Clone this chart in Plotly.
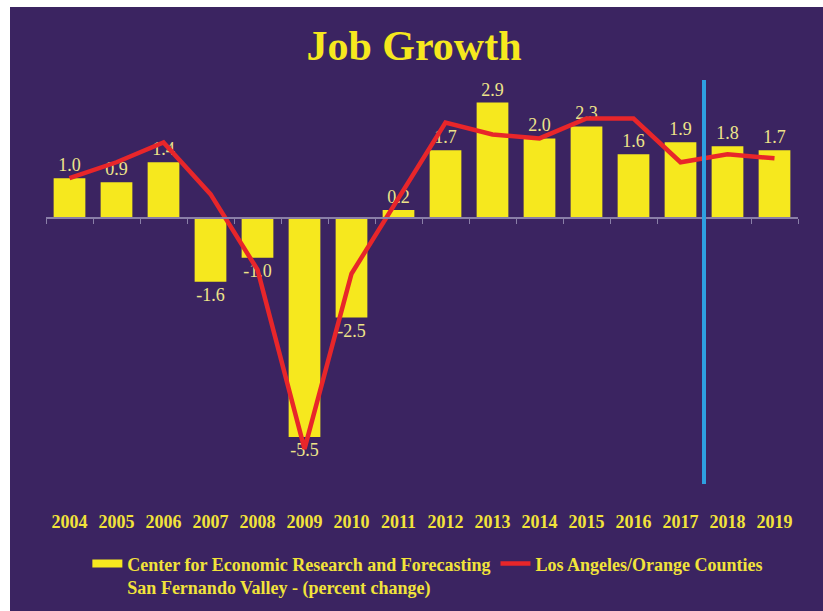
import plotly.graph_objects as go

# Annual job growth (percent change)
years = ["2004", "2005", "2006", "2007", "2008", "2009", "2010", "2011",
         "2012", "2013", "2014", "2015", "2016", "2017", "2018", "2019"]
sfv_growth = [1.0, 0.9, 1.4, -1.6, -1.0, -5.5, -2.5, 0.2,
              1.7, 2.9, 2.0, 2.3, 1.6, 1.9, 1.8, 1.7]
la_oc_growth = [1.0, 1.4, 1.9, 0.6, -1.3, -5.8, -1.4, 0.5,
                2.4, 2.1, 2.0, 2.5, 2.5, 1.4, 1.6, 1.5]
forecast_split = 13.5  # between 2017 and 2018

sfv_name = "Center for Economic Research and Forecasting<br>San Fernando Valley - (percent change)"
la_name = "Los Angeles/Orange Counties"

BG = "#3b2461"
YELLOW = "#f6e81e"
LABEL = "#eee48a"
TEXT = "#f2e33a"
RED = "#e8262a"
BLUE = "#2e9fe0"
AXIS = "#8a7fa8"
SERIF = "Liberation Serif"

W, H = 823, 611
M_L, M_R, M_T, M_B = 46, 25, 80, 127
pw = W - M_L - M_R
ph = H - M_T - M_B

fig = go.Figure()

fig.add_trace(go.Bar(
    x=years, y=sfv_growth, name=sfv_name, showlegend=False,
    marker=dict(color=YELLOW, line=dict(width=0)),
    width=0.675,
    texttemplate="%{y:.1f}", textposition="outside",
    constraintext="none", cliponaxis=False,
    textfont=dict(family=SERIF, size=18, color=LABEL),
    xaxis="x", yaxis="y",
))

# legend key for the bars: a wide flat swatch
fig.add_trace(go.Scatter(
    x=[None], y=[None], mode="lines", name=sfv_name,
    line=dict(color=YELLOW, width=8), xaxis="x", yaxis="y",
))

fig.add_trace(go.Scatter(
    x=years, y=la_oc_growth, mode="lines", name=la_name,
    line=dict(color=RED, width=4.5),
    xaxis="x2", yaxis="y",
))

# forecast divider
fig.add_shape(type="line", xref="x", yref="paper",
              x0=forecast_split, x1=forecast_split, y0=0, y1=1,
              line=dict(color=BLUE, width=4), layer="above")

# thin white frame strips along the left and top edges
fig.add_shape(type="rect", xref="paper", yref="paper",
              x0=-M_L / pw, x1=(10 - M_L) / pw,
              y0=-M_B / ph, y1=1 + M_T / ph,
              line=dict(width=0), fillcolor="white", layer="above")
fig.add_shape(type="rect", xref="paper", yref="paper",
              x0=-M_L / pw, x1=1 + M_R / pw,
              y0=(H - M_B - 7) / ph, y1=1 + M_T / ph,
              line=dict(width=0), fillcolor="white", layer="above")

fig.update_layout(
    width=W, height=H,
    margin=dict(l=M_L, r=M_R, t=M_T, b=M_B, pad=0, autoexpand=False),
    paper_bgcolor=BG, plot_bgcolor=BG,
    title=dict(text="Job Growth", x=0.503, xanchor="center",
               y=1 - 45 / H, yanchor="middle", yref="container",
               font=dict(family=SERIF, size=42, color=YELLOW, weight="bold")),
    showlegend=True,
    legend=dict(orientation="h", x=0.055, xanchor="left", y=-0.152, yanchor="top",
                valign="top", bgcolor="rgba(0,0,0,0)",
                font=dict(family=SERIF, size=18, color=TEXT, weight="bold"),
                itemwidth=30, tracegroupgap=0),
    xaxis=dict(type="category", range=[-0.5, 15.5], showgrid=False,
               showline=False, ticks="", zeroline=False,
               tickfont=dict(family=SERIF, size=18, color=TEXT, weight="bold"),
               ticklabelstandoff=25, fixedrange=True, automargin=False),
    xaxis2=dict(type="category", overlaying="x", matches="x", anchor="free",
                position=6.683 / 10.15, showgrid=False, showline=True,
                linecolor=AXIS, linewidth=1.5, ticks="outside",
                tickson="boundaries", ticklen=5, tickcolor=AXIS, tickwidth=1,
                showticklabels=False, zeroline=False, automargin=False),
    yaxis=dict(range=[-6.683, 3.467], visible=False, showgrid=False,
               zeroline=False, fixedrange=True, automargin=False),
    bargap=0.325,
)

# keep the page to the figure's own size (no scrollbars)
fig.write_html(
    "out.html",
    post_script="document.documentElement.style.overflow='hidden';"
                "document.body.style.overflow='hidden';"
                "document.body.style.margin='0';",
)
